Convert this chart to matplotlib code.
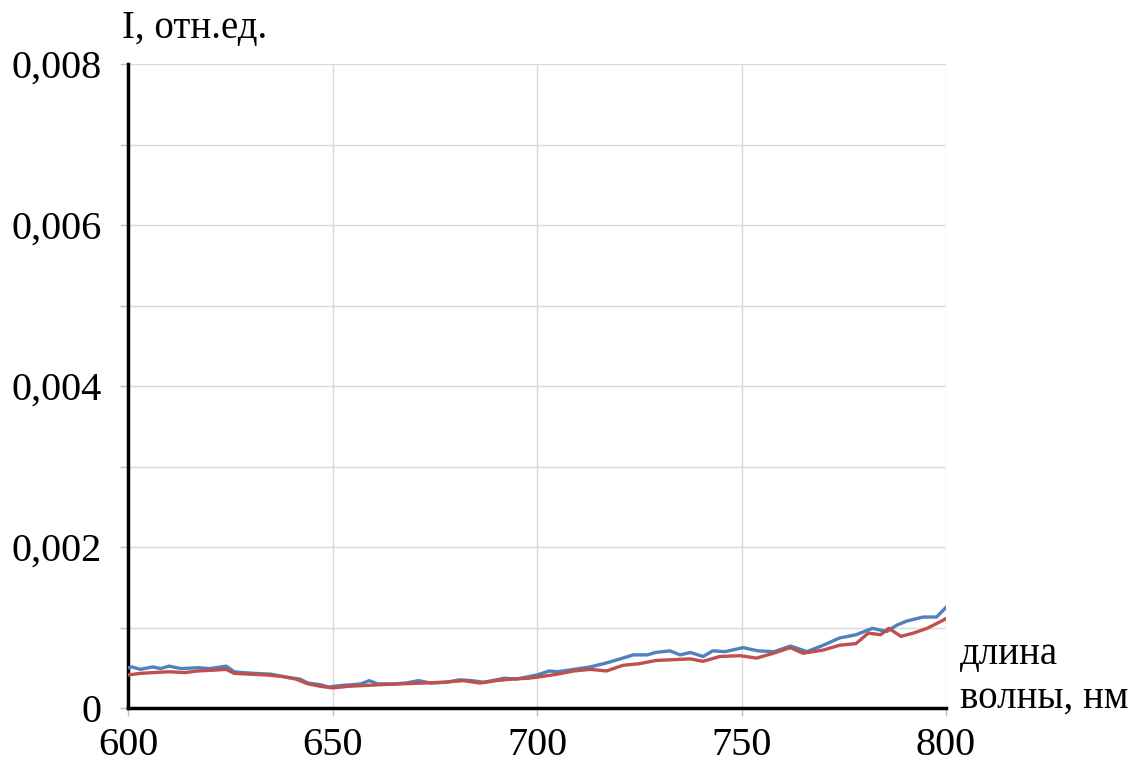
import matplotlib
matplotlib.use("Agg")
import matplotlib.pyplot as plt
from matplotlib.ticker import MultipleLocator, FuncFormatter

# Blue series (wavelength, nm ; intensity, rel. units)
blue_x = [600, 601, 603, 606, 608, 610, 613, 617, 620, 624, 626, 628, 631, 635, 639,
          642, 644, 647, 649, 652, 655, 657, 659, 661, 665, 668, 671, 674, 678, 681,
          684, 687, 690, 692, 695, 698, 700, 703, 705, 709, 713, 717, 721, 723.5, 727,
          729, 732.5, 735, 737.5, 740.6, 743, 746, 750.4, 754, 758, 762, 766, 770, 774,
          778, 782, 785.5, 788, 790.4, 794.4, 797.7, 800]
blue_y = [0.00050, 0.00051, 0.00048, 0.00051, 0.00049, 0.00052, 0.00049, 0.00050, 0.00049,
          0.00052, 0.00045, 0.00044, 0.00043, 0.00042, 0.00038, 0.00036, 0.00031, 0.00029,
          0.00026, 0.00028, 0.00029, 0.00030, 0.00034, 0.00030, 0.00030, 0.00031, 0.00034,
          0.00031, 0.00032, 0.00035, 0.00034, 0.00032, 0.00035, 0.00037, 0.00036, 0.00039,
          0.00041, 0.00046, 0.00045, 0.00048, 0.00051, 0.00056, 0.00062, 0.00066, 0.00066,
          0.00069, 0.00071, 0.00066, 0.00069, 0.00064, 0.00071, 0.00070, 0.00075, 0.00071,
          0.00070, 0.00077, 0.00070, 0.00078, 0.00087, 0.00091, 0.00099, 0.00095, 0.00103,
          0.00108, 0.00113, 0.00113, 0.00125]

# Red series
red_x = [600, 603, 606, 610, 614, 617, 621, 624, 626, 630, 634, 638, 641, 644, 647,
         650, 654, 658, 662, 667, 672, 677, 682, 686, 690, 694, 698, 701, 705, 709,
         713, 717, 721, 725, 729, 733, 737.5, 740.6, 744.7, 749.6, 753.7, 757.8, 762,
         765, 770, 774, 778, 781, 784, 786, 789, 792, 795.4, 798.5, 800]
red_y = [0.00041, 0.00043, 0.00044, 0.00045, 0.00044, 0.00046, 0.00047, 0.00048, 0.00043,
         0.00042, 0.00041, 0.00039, 0.00036, 0.00030, 0.00027, 0.00025, 0.00027, 0.00028,
         0.00029, 0.00030, 0.00031, 0.00032, 0.00034, 0.00031, 0.00034, 0.00036, 0.00037,
         0.00039, 0.00042, 0.00046, 0.00048, 0.00046, 0.00053, 0.00055, 0.00059, 0.00060,
         0.00061, 0.00058, 0.00064, 0.00065, 0.00062, 0.00068, 0.00075, 0.00068, 0.00072,
         0.00078, 0.00080, 0.00093, 0.00091, 0.00099, 0.00089, 0.00093, 0.00099, 0.00107,
         0.00111]

x_ticks = [600, 650, 700, 750, 800]
y_label_ticks = [0, 0.002, 0.004, 0.006, 0.008]

plt.rcParams['font.family'] = ['Liberation Serif', 'DejaVu Serif']

fig = plt.figure(figsize=(11.42, 7.66), dpi=100)
ax = fig.add_axes([128/1142, 1-708/766, (946-128)/1142, (708-64)/766])

ax.plot(blue_x, blue_y, color='#4F81BD', lw=2.4, zorder=3)
ax.plot(red_x, red_y, color='#C0504D', lw=2.4, zorder=3)

ax.set_xlim(600, 800)
ax.set_ylim(0, 0.008)

ax.set_xticks(x_ticks)
ax.yaxis.set_major_locator(MultipleLocator(0.001))

def yfmt(v, pos):
    for t in y_label_ticks:
        if abs(v - t) < 1e-9:
            return '0' if t == 0 else f'{t:.3f}'.replace('.', ',')
    return ''

ax.yaxis.set_major_formatter(FuncFormatter(yfmt))

ax.grid(True, color='#d9d9d9', lw=1.0, zorder=0)
for s in ['top', 'right']:
    ax.spines[s].set_visible(False)
for s in ['left', 'bottom']:
    ax.spines[s].set_linewidth(2.5)
    ax.spines[s].set_color('black')

ax.tick_params(axis='both', labelsize=29, length=6, width=1, color='#bfbfbf')
ax.tick_params(axis='y', pad=13)
ax.tick_params(axis='x', pad=8)

fig.text(122/1142, 1-28/766, 'I, отн.ед.', fontsize=28, ha='left', va='center')
fig.text(960/1142, 1-654/766, 'длина', fontsize=28, ha='left', va='center')
fig.text(960/1142, 1-698/766, 'волны, нм', fontsize=28, ha='left', va='center')

fig.savefig('out.png', dpi=100)
